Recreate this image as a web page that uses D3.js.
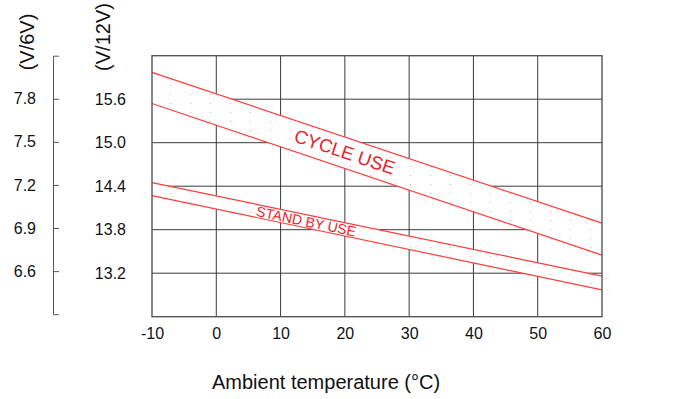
<!DOCTYPE html>
<html>
<head>
<meta charset="utf-8">
<script src="https://cdn.jsdelivr.net/npm/d3@7"></script>
<style>
  body { margin: 0; background: #fff; }
  svg { display: block; font-family: "Liberation Sans", Arial, sans-serif; }
</style>
</head>
<body>
<svg id="chart" width="691" height="399"></svg>
<script>
// x axis: ambient temperature, deg C
const TEMP_TICKS = [-10, 0, 10, 20, 30, 40, 50, 60];
// right-hand voltage scale (per 12V battery)
const V12_TICKS = [13.2, 13.8, 14.4, 15.0, 15.6];
const V12_GRID = [12.6, 13.2, 13.8, 14.4, 15.0, 15.6, 16.2];
// left-hand voltage scale (per 6V battery)
const V6_TICKS = [6.6, 6.9, 7.2, 7.5, 7.8];

// band edges read at -10 and 60 deg C (V/12V)
const BAND_TEMPS = [-10, 60];
const CYCLE_UPPER = [15.97, 13.89];
const CYCLE_LOWER = [15.54, 13.45];
const STANDBY_UPPER = [14.45, 13.16];
const STANDBY_LOWER = [14.27, 12.97];

const RED = '#ff3b3b';
const TEXT_RED = '#ee1c25';

function drawChart() {
  const svg = d3.select('#chart');
  const left = 152, right = 602, top = 55.7, bottom = 316.7;

  const x = d3.scaleLinear().domain([-10, 60]).range([left, right]);
  const y = d3.scaleLinear().domain([12.6, 16.2]).range([bottom, top]);
  const y6 = d3.scaleLinear().domain([6.3, 8.1]).range([bottom - 2.5, top]);

  // faint dot texture used inside the bands
  const defs = svg.append('defs');
  const pat = defs.append('pattern')
    .attr('id', 'dots')
    .attr('patternUnits', 'userSpaceOnUse')
    .attr('width', 20).attr('height', 9);
  pat.append('rect').attr('width', 20).attr('height', 9).attr('fill', '#fff');
  pat.append('rect').attr('x', 10).attr('y', 4).attr('width', 1).attr('height', 1)
    .attr('fill', '#f4a0a8');

  // grid
  const grid = svg.append('g').attr('stroke', '#3a3a3a').attr('stroke-width', 1);
  grid.selectAll('line.v')
    .data(TEMP_TICKS.slice(1, -1))
    .enter().append('line')
    .attr('x1', d => x(d)).attr('x2', d => x(d))
    .attr('y1', top).attr('y2', bottom);
  grid.selectAll('line.h')
    .data(V12_GRID.slice(1, -1))
    .enter().append('line')
    .attr('x1', left).attr('x2', right)
    .attr('y1', d => y(d)).attr('y2', d => y(d));

  // bands
  const bands = [
    { upper: CYCLE_UPPER, lower: CYCLE_LOWER },
    { upper: STANDBY_UPPER, lower: STANDBY_LOWER }
  ];
  const area = d3.area()
    .x(d => x(d.t))
    .y0(d => y(d.lo))
    .y1(d => y(d.hi));
  const line = d3.line().x(d => x(d.t)).y(d => y(d.v));

  bands.forEach(b => {
    const pts = BAND_TEMPS.map((t, i) => ({ t, hi: b.upper[i], lo: b.lower[i] }));
    svg.append('path').attr('d', area(pts)).attr('fill', 'url(#dots)');
    [b.upper, b.lower].forEach(edge => {
      svg.append('path')
        .attr('d', line(BAND_TEMPS.map((t, i) => ({ t, v: edge[i] }))))
        .attr('fill', 'none')
        .attr('stroke', RED)
        .attr('stroke-width', 1.2);
    });
  });

  // frame
  svg.append('rect')
    .attr('x', left).attr('y', top)
    .attr('width', right - left).attr('height', bottom - top)
    .attr('fill', 'none').attr('stroke', '#555').attr('stroke-width', 1.4);

  // band labels, rotated along the band
  function bandLabel(text, upper, lower, t, size, nudge) {
    const at = (edge, tt) => edge[0] + (edge[1] - edge[0]) * (tt + 10) / 70;
    const mid = tt => (at(upper, tt) + at(lower, tt)) / 2;
    const angle = Math.atan2(y(mid(60)) - y(mid(-10)), x(60) - x(-10)) * 180 / Math.PI;
    svg.append('text')
      .attr('transform', `translate(${x(t)},${y(mid(t)) + nudge}) rotate(${angle})`)
      .attr('text-anchor', 'middle')
      .attr('dy', '0.36em')
      .attr('fill', TEXT_RED)
      .attr('font-size', size)
      .text(text);
  }
  bandLabel('CYCLE USE', CYCLE_UPPER, CYCLE_LOWER, 20, 18.5, -1);
  bandLabel('STAND BY USE', STANDBY_UPPER, STANDBY_LOWER, 14, 14, 0);

  const styleAxis = g => {
    g.attr('font-family', null).attr('font-size', null);
    g.selectAll('text').attr('font-size', 16).attr('fill', '#111');
  };

  // x axis labels (plain hyphen for negatives, as in the source)
  const xAxis = d3.axisBottom(x).tickValues(TEMP_TICKS).tickSize(0).tickPadding(11)
    .tickFormat(d => String(d));
  const gx = svg.append('g').attr('transform', `translate(0,${bottom})`).call(xAxis);
  gx.select('.domain').remove();
  styleAxis(gx);

  // V/12V labels
  const y12Axis = d3.axisLeft(y).tickValues(V12_TICKS).tickSize(0).tickPadding(26)
    .tickFormat(d3.format('.1f'));
  const gy = svg.append('g').attr('transform', `translate(${left},0)`).call(y12Axis);
  gy.select('.domain').remove();
  styleAxis(gy);

  // V/6V axis with ticks pointing right
  const y6Axis = d3.axisLeft(y6).tickValues(V6_TICKS)
    .tickSizeInner(-6).tickSizeOuter(-6).tickPadding(17)
    .tickFormat(d3.format('.1f'));
  const g6 = svg.append('g').attr('transform', 'translate(53,0)').call(y6Axis);
  g6.selectAll('path, line').attr('stroke', '#555');
  styleAxis(g6);

  // axis titles
  svg.append('text')
    .attr('transform', 'translate(34,42) rotate(-90)')
    .attr('text-anchor', 'middle')
    .attr('font-size', 20).attr('fill', '#111')
    .text('(V/6V)');
  svg.append('text')
    .attr('transform', 'translate(110,37) rotate(-90)')
    .attr('text-anchor', 'middle')
    .attr('font-size', 20).attr('fill', '#111')
    .text('(V/12V)');
  svg.append('text')
    .attr('x', 212).attr('y', 389)
    .attr('font-size', 20).attr('fill', '#111')
    .text('Ambient temperature (°C)');
}

window.addEventListener('DOMContentLoaded', drawChart);
</script>
</body>
</html>
